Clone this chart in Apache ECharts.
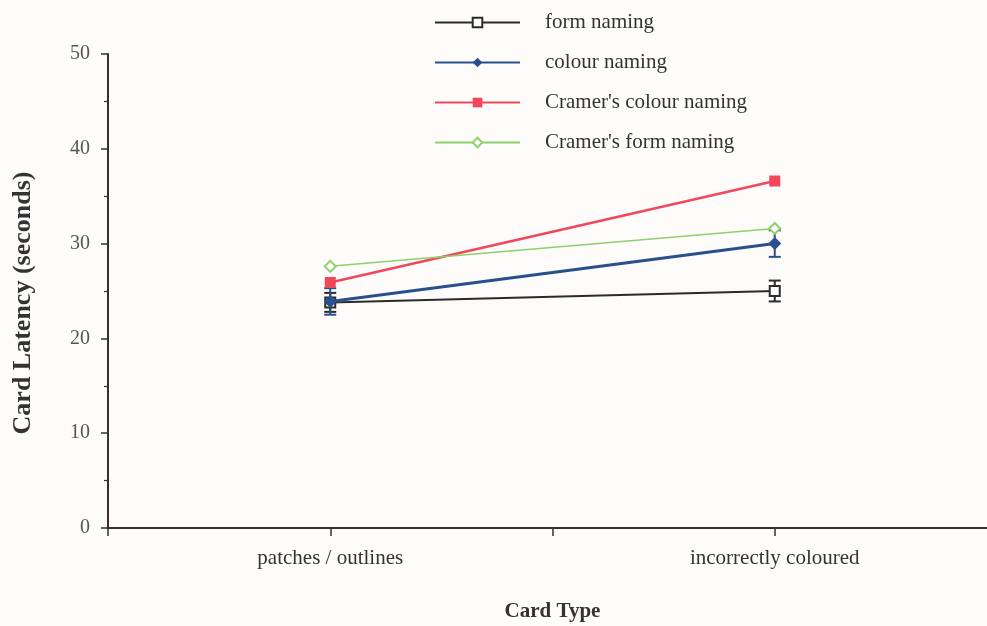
<!DOCTYPE html>
<html>
<head>
<meta charset="utf-8">
<script src="https://cdn.jsdelivr.net/npm/echarts@6/dist/echarts.min.js"></script>
<style>
html,body{margin:0;padding:0;background:#fdfcfa;}
#chart{width:987px;height:626px;}
</style>
</head>
<body>
<div id="chart"></div>
<script>
var categories = ['patches / outlines', 'incorrectly coloured'];
var categoryPos = [1, 3];
var seriesNames = ['form naming', 'colour naming', "Cramer's colour naming", "Cramer's form naming"];
var formNaming = [23.8, 25.0];
var colourNaming = [23.9, 30.0];
var cramerColour = [25.9, 36.6];
var cramerForm = [27.6, 31.6];
var formErr = [1.0, 1.1];
var colourErr = [1.4, 1.4];

function pts(vals){ return vals.map(function(v,i){ return [categoryPos[i], v]; }); }
function errData(vals, errs){ return vals.map(function(v,i){ return [categoryPos[i], v - errs[i], v + errs[i]]; }); }

function errSeries(vals, errs, color){
  return {
    type: 'custom',
    data: errData(vals, errs),
    z: 1,
    silent: true,
    renderItem: function(params, api){
      var x = api.value(0);
      var lo = api.coord([x, api.value(1)]);
      var hi = api.coord([x, api.value(2)]);
      var w = 6;
      var st = {stroke: color, lineWidth: 2};
      return {type: 'group', children: [
        {type: 'line', shape: {x1: lo[0], y1: lo[1], x2: hi[0], y2: hi[1]}, style: st},
        {type: 'line', shape: {x1: lo[0]-w, y1: lo[1], x2: lo[0]+w, y2: lo[1]}, style: st},
        {type: 'line', shape: {x1: hi[0]-w, y1: hi[1], x2: hi[0]+w, y2: hi[1]}, style: st}
      ]};
    }
  };
}

var serif = 'Liberation Serif';
var chart = echarts.init(document.getElementById('chart'));
chart.setOption({
  backgroundColor: '#fdfcfa',
  animation: false,
  textStyle: {fontFamily: serif},
  legend: {
    orient: 'vertical',
    left: 429,
    top: 7,
    itemWidth: 85,
    itemHeight: 12,
    itemGap: 19,
    data: seriesNames,
    textStyle: {fontFamily: serif, fontSize: 21, color: '#333', padding: [0,0,0,20]}
  },
  grid: {left: 108, width: 889, top: 54, bottom: 98, outerBoundsMode: 'none', containLabel: false},
  xAxis: {
    type: 'value',
    min: 0, max: 4, interval: 1,
    name: 'Card Type',
    nameLocation: 'middle',
    nameGap: 73,
    nameTextStyle: {fontFamily: serif, fontSize: 21, fontWeight: 'bold', color: '#333'},
    axisLine: {lineStyle: {color: '#3a2d2d', width: 2}},
    axisTick: {show: true, length: 8, lineStyle: {color: '#3a2d2d', width: 1.5}},
    splitLine: {show: false},
    axisLabel: {
      margin: 20, fontFamily: serif, fontSize: 21, color: '#333',
      formatter: function(v){ var i = categoryPos.indexOf(v); return i >= 0 ? categories[i] : ''; }
    }
  },
  yAxis: {
    type: 'value',
    min: 0, max: 50, interval: 10,
    name: 'Card Latency (seconds)',
    nameLocation: 'middle',
    nameGap: 72,
    nameTextStyle: {fontFamily: serif, fontSize: 26, fontWeight: 'bold', color: '#333', padding: [0, 24, 0, 0]},
    axisLine: {show: true, lineStyle: {color: '#3a2d2d', width: 2}},
    axisTick: {show: true, length: 7, lineStyle: {color: '#3a2d2d', width: 1.5}},
    minorTick: {show: true, splitNumber: 2, length: 4, lineStyle: {color: '#3a2d2d', width: 1.2}},
    splitLine: {show: false},
    axisLabel: {margin: 18, fontFamily: serif, fontSize: 20, color: '#555'}
  },
  series: [
    errSeries(formNaming, formErr, '#2b2b2b'),
    errSeries(colourNaming, colourErr, '#2a4f8f'),
    {
      name: seriesNames[0], type: 'line', data: pts(formNaming), z: 3,
      symbol: 'emptyRect', symbolSize: 10,
      lineStyle: {color: '#2b2b2b', width: 2},
      itemStyle: {color: '#2b2b2b', borderWidth: 2}
    },
    {
      name: seriesNames[1], type: 'line', data: pts(colourNaming), z: 4,
      symbol: 'diamond', symbolSize: 13,
      lineStyle: {color: '#2a4f8f', width: 3},
      itemStyle: {color: '#2a4f8f'}
    },
    {
      name: seriesNames[2], type: 'line', data: pts(cramerColour), z: 3,
      symbol: 'rect', symbolSize: 11,
      lineStyle: {color: '#f2475a', width: 2.5},
      itemStyle: {color: '#f2475a'}
    },
    {
      name: seriesNames[3], type: 'line', data: pts(cramerForm), z: 3,
      symbol: 'emptyDiamond', symbolSize: 11,
      lineStyle: {color: '#8ed06a', width: 1.5},
      itemStyle: {color: '#8ed06a', borderWidth: 2}
    }
  ]
});
</script>
</body>
</html>
